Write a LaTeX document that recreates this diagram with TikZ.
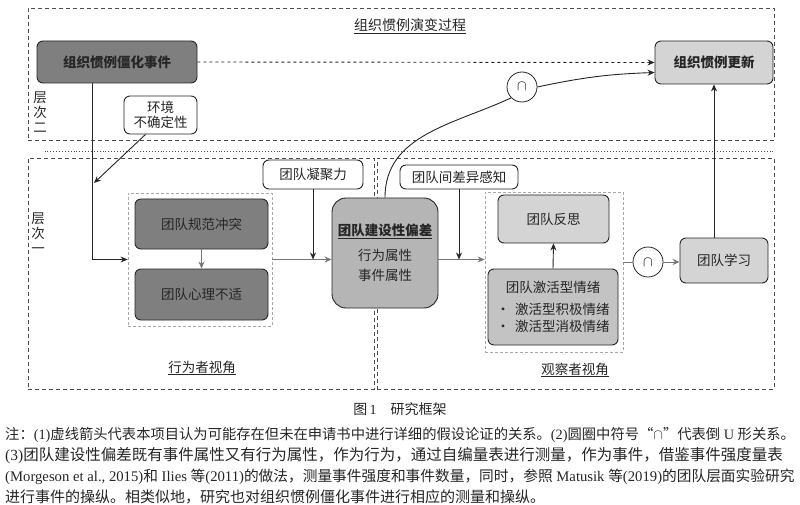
\documentclass[tikz,border=0pt]{standalone}
\usepackage{fontspec}
\setmainfont{Noto Sans CJK SC}
\newfontfamily\latin{Liberation Serif}
\usetikzlibrary{arrows.meta,positioning,calc}
\definecolor{ink}{HTML}{262626}
\definecolor{frame}{HTML}{4D4D4D}
\definecolor{groupline}{HTML}{A8A8A8}
\definecolor{flowgray}{HTML}{767676}
\definecolor{darkfill}{HTML}{7F7F7F}
\definecolor{midfill}{HTML}{B5B5B5}
\definecolor{lightfill}{HTML}{D4D4D4}
\tikzset{
  box/.style={rounded corners=6pt,draw=ink,line width=.9pt,text=ink,
    align=center,inner sep=0pt,font=\fontsize{13.5}{16}\selectfont},
  darkbox/.style={box,fill=darkfill},
  midbox/.style={box,fill=midfill,rounded corners=14pt},
  lightbox/.style={box,fill=lightfill},
  cuebox/.style={box,fill=white},
  zone/.style={draw=frame,line width=.9pt,dash pattern=on 4pt off 3pt},
  groupzone/.style={draw=groupline,line width=.8pt,dash pattern=on 3pt off 2pt},
  capnode/.style={circle,draw=ink,fill=white,line width=.8pt,minimum size=30pt,
    inner sep=0pt,font=\fontsize{14}{16}\selectfont},
  arrow/.style={-{Stealth[length=7pt,width=6pt]},line width=.9pt,draw=ink},
  grayarrow/.style={-{Stealth[length=7pt,width=6pt]},line width=.9pt,draw=flowgray},
  tag/.style={font=\fontsize{13.5}{15}\selectfont,text=ink,align=center,inner sep=0pt},
  note/.style={text=ink,anchor=west,inner sep=0pt}
}

\begin{document}
\begin{tikzpicture}[x=1pt,y=-1pt]
\useasboundingbox (0,0) rectangle (800,505);
\fill[white] (0,0) rectangle (800,505);

% Frames of the two levels
\node[zone,minimum width=746,minimum height=132] (level2) at (401,74) {};
\node[zone,minimum width=346,minimum height=231] (actor) at (201,273.5) {};
\node[zone,minimum width=397,minimum height=231] (observer) at (575.5,273.5) {};
\draw[frame,line width=.9pt,dotted] ([xshift=17pt,yshift=-11pt]level2.south west)
  -- ([yshift=-11pt]level2.south east);

\node[tag,font=\fontsize{14}{16}\selectfont] (title) at (410,26) {\underline{组织惯例演变过程}};
\node[tag,text depth=0pt] (lvtwo) at (40,112) {\baselineskip=15pt 层\\次\\二};
\node[tag] (lvone) at (38,233) {\baselineskip=14pt 层\\次\\一};
\node[tag] (actorview) at (202,368) {\underline{行为者视角}};
\node[tag] (obsview) at (575,370) {\underline{观察者视角}};

% Level two: organizational routine
\node[darkbox,minimum width=160,minimum height=42,font=\fontsize{13.5}{16}\selectfont\bfseries]
  (rigid) at (117,62) {组织惯例僵化事件};
\node[lightbox,minimum width=118,minimum height=43,font=\fontsize{13.5}{16}\selectfont\bfseries]
  (renew) at (714,62.5) {组织惯例更新};
\node[cuebox,minimum width=73,minimum height=38] (envir) at (160.5,115)
  {环境\\[-1pt]不确定性};

% Level one: actor view
\node[groupzone,minimum width=144,minimum height=133] (groupA) at (200,259.5) {};
\node[darkbox,minimum width=133,minimum height=50] (conflict) at (201.5,224) {团队规范冲突};
\node[darkbox,minimum width=133,minimum height=51] (discomf) at (201.5,294.5) {团队心理不适};
\node[cuebox,minimum width=100,minimum height=29] (cohes) at (313,174.5) {团队凝聚力};
\node[midbox,minimum width=106,minimum height=110] (deviance) at (385,253)
  {\textbf{\underline{团队建设性偏差}}\\[9pt]行为属性\\[4pt]事件属性};

% Level one: observer view
\node[cuebox,minimum width=118,minimum height=24] (diffp) at (459,177) {团队间差异感知};
\node[groupzone,minimum width=138,minimum height=160] (groupB) at (554,272) {};
\node[lightbox,minimum width=111,minimum height=48] (reflect) at (553.5,219) {团队反思};
\node[lightbox,minimum width=130,minimum height=76,fill=lightfill!92!black] (arousal) at (553,307)
  {团队激活型情绪\\[6pt]
   \makebox[1.4em][l]{•}激活型积极情绪\\[1pt]
   \makebox[1.4em][l]{•}激活型消极情绪};
\node[lightbox,minimum width=88,minimum height=45] (learn) at (724,260.5) {团队学习};
\node[capnode] (capL) at (522,87) {$\cap$};
\node[capnode] (capR) at (648,262) {$\cap$};

% Connectors
\coordinate (envhit) at (94,183);
\draw[arrow,dashed] (rigid.east) -- (renew.west);
\draw[arrow] ([xshift=-25pt]rigid.south) |- (groupA.west);
\draw[arrow] ([xshift=-15pt]envir.south) -- (envhit);
\draw[grayarrow] (conflict.south) -- (discomf.north);
\draw[grayarrow] (groupA.east) -- (groupA.east -| deviance.west);
\draw[arrow] (cohes.south) -- (cohes.south |- groupA.east);
\draw[grayarrow] (deviance.east |- groupA.east) -- (groupA.east -| groupB.west);
\draw[arrow] (diffp.south) -- (diffp.south |- groupA.east);
\draw[arrow] (arousal.north) -- (reflect.south);
\draw[flowgray,line width=.9pt] (groupB.east |- capR) -- (capR.west);
\draw[grayarrow] (capR.east) -- (capR.east -| learn.west);
\draw[arrow] (renew.south |- learn.north) -- (renew.south);
\draw[ink,line width=.9pt] (deviance.north) to[out=90,in=205] (capL.south west);
\draw[arrow] (capL.east) to[out=12,in=182] ([yshift=-10pt]renew.west);

% Caption and notes
\node[tag,font=\fontsize{14}{16}\selectfont] (figcap) at (400,409) {图{\latin\,1}\quad 研究框架};
\node[note,font=\fontsize{14.3}{16}\selectfont] (note1) at (5,435)
  {注：{\latin (1)}虚线箭头代表本项目认为可能存在但未在申请书中进行详细的假设论证的关系。{\latin (2)}圆圈中符号“$\cap$”代表倒{\latin\ U }形关系。};
\node[note,font=\fontsize{15.5}{17}\selectfont] (note2) at (5,456)
  {{\latin (3)}团队建设性偏差既有事件属性又有行为属性，作为行为，通过自编量表进行测量，作为事件，借鉴事件强度量表};
\node[note,font=\fontsize{14.7}{16}\selectfont] (note3) at (5,477)
  {{\latin (Morgeson et al., 2015)}和{\latin\ Ilies }等{\latin (2011)}的做法，测量事件强度和事件数量，同时，参照{\latin\ Matusik }等{\latin (2019)}的团队层面实验研究};
\node[note,font=\fontsize{15}{17}\selectfont] (note4) at (5,497)
  {进行事件的操纵。相类似地，研究也对组织惯例僵化事件进行相应的测量和操纵。};

\end{tikzpicture}
\end{document}
